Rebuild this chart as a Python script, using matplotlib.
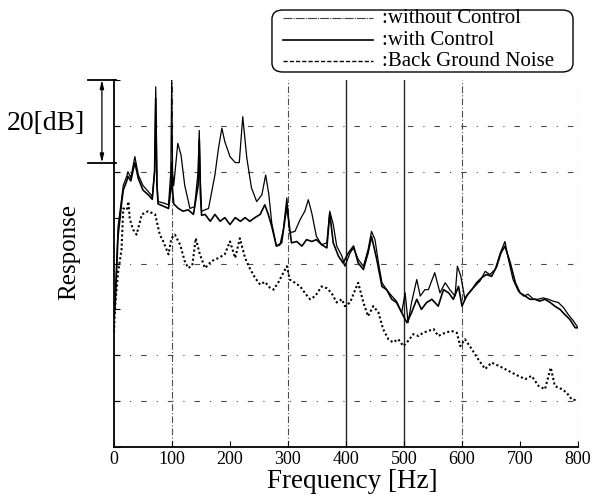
"""
Frequency response with and without control, plus background noise.
"""

import matplotlib
matplotlib.use("Agg")
import matplotlib.pyplot as plt
import matplotlib.transforms as mtransforms
from matplotlib.lines import Line2D
from matplotlib.patches import FancyBboxPatch
import numpy as np

# values (Hz, dB)
without_f = [0, 2, 7, 13, 16, 22, 24, 29, 36, 42, 50, 59, 66, 70, 72, 74, 76, 85, 94, 98,
             99.5, 101, 103, 110, 115.5, 122, 131, 139, 145, 147, 149, 151, 163, 174, 180,
             186, 191, 200, 209, 216, 222, 229, 237, 246, 255, 261.5, 267, 272, 280, 286,
             292, 298, 303, 312, 321, 329, 335, 341, 349, 358, 367, 372, 378, 384, 393,
             398, 407, 413, 421, 430, 438, 444, 450, 456, 462, 470, 479, 487, 496, 502,
             507, 513, 522, 528, 536, 542, 553, 562, 571, 579, 588, 592, 598, 605, 614,
             622, 631, 640, 648, 657, 666, 674, 680, 688, 697, 706, 714, 723, 731, 740,
             749, 757, 766, 775, 783, 792, 800]
without_db = [28, 31.7, 48, 54, 57, 59, 60, 58.7, 63.3, 59.3, 57, 55.7, 54.6, 60, 78.5, 58,
              53.5, 53.2, 52.8, 60, 80, 60, 57, 66.2, 63.7, 57, 52, 52.4, 60, 69, 58, 51.4,
              52, 59.3, 65, 69.5, 66.6, 63.3, 62, 62, 72, 63, 56.5, 53.5, 55, 59.3, 55,
              48.8, 43.8, 44, 47.4, 54.3, 46.7, 47, 49.6, 51.4, 53.9, 51, 45.9, 44.1, 44.5,
              51.4, 48.5, 43.8, 41.6, 39.4, 42.3, 43.4, 40.9, 39.4, 43, 47, 45.2, 40.1,
              35.8, 34.3, 32.9, 31.8, 29.3, 33.6, 27.1, 31.5, 36.5, 32.9, 34.3, 34.3, 38,
              33.6, 35.8, 34.3, 32.9, 39.4, 37.2, 32.2, 34, 35, 36.2, 38.3, 37.6, 38.7,
              42.3, 44.8, 40.9, 36.5, 34, 32.9, 33.3, 32.2, 32.2, 32.5, 32.2, 31.8, 31.5,
              30.4, 28.9, 27.5, 26]

with_f = [0, 2, 7, 13, 16, 22, 24, 29, 36, 42, 50, 59, 66, 70, 72, 74, 76, 85, 94, 98,
          99.5, 101, 103, 111, 119, 128, 137, 145, 147, 149, 151, 157, 166, 174, 183, 191,
          200, 209, 218, 226, 234, 243, 252, 260, 266, 272, 280, 289, 298, 306, 315, 324,
          332, 341, 349, 358, 367, 372, 378, 387, 395, 404, 413, 421, 430, 438, 444, 453,
          462, 470, 479, 487, 496, 505, 513, 522, 530, 539, 548, 559, 568, 577, 585, 594,
          600, 608, 617, 625, 634, 642, 651, 660, 667, 674, 683, 692, 700, 709, 717, 726,
          734, 743, 752, 760, 769, 777, 786, 795, 800]
with_db = [28, 31, 46, 53, 56, 58, 59, 58, 62, 58.5, 56, 55, 54, 60, 76, 57, 53, 52.5, 52,
           56, 62, 56, 53, 52, 51.4, 51.7, 50.7, 57, 67, 55, 50.5, 50.7, 49.2, 50.7, 49.2,
           50, 48.5, 50, 49.2, 50, 49.2, 50, 50.7, 52.8, 50.7, 48.1, 43.8, 44.5, 52.5,
           44.5, 44.8, 43.8, 45.2, 44.8, 45.2, 44.1, 43.4, 51, 44.5, 41.6, 40.1, 42.3,
           43.8, 40.1, 38.7, 42.3, 45.9, 40.9, 35, 34.3, 32.2, 31.5, 29.3, 27.1, 29.3,
           32.2, 30, 31.5, 32.2, 30.7, 34.3, 33.6, 32.2, 35, 30.7, 33, 34.3, 35.8, 36.9,
           37.6, 37.2, 39.4, 42.3, 43.8, 40.2, 35.8, 33.6, 32.9, 32.2, 32.2, 31.8, 32.2,
           31.5, 30.7, 30, 28.9, 27.8, 26, 26]

noise_f = [0, 2, 7, 13, 16, 22, 25, 27, 30, 33, 39, 48, 59, 71, 79, 85, 94, 99, 105, 114,
           122, 128, 135, 141, 148, 157, 168, 180, 191, 200, 209, 217, 226, 234, 243, 252,
           260, 269, 275, 283, 292, 298, 303, 312, 321, 329, 338, 347, 358, 367, 375, 384,
           393, 398, 407, 416, 421, 430, 438, 447, 456, 464, 473, 481, 490, 499, 507, 516,
           525, 533, 542, 551, 559, 571, 582, 591, 597, 605, 617, 628, 640, 651, 663, 674,
           686, 697, 709, 720, 732, 743, 753, 760, 772, 780, 789, 800]
noise_db = [25, 30.7, 38, 43, 52, 51.7, 53.5, 50, 48.5, 47.4, 46.3, 50.7, 51.4, 50.7, 46.3,
            44.8, 42, 45.5, 46.3, 44.1, 40.5, 39, 39.6, 45.5, 42, 39, 40.5, 41.2, 42, 44.8,
            41.2, 45.5, 41.2, 39, 36.9, 35.4, 36, 34.7, 34.3, 35.8, 38, 39.4, 36.5, 35.8,
            35, 33.6, 32.2, 32.9, 35, 34.6, 33.6, 31.5, 32.2, 30.7, 31.5, 34.3, 35.8, 31.5,
            28.5, 30.7, 29.3, 25.7, 23.5, 22.8, 23.5, 22, 23.1, 24.6, 24.2, 24.9, 25.3,
            25.7, 24.2, 24.9, 25.3, 24.9, 22, 23.5, 21.3, 19.1, 17, 18.4, 17.7, 17, 16.2,
            15.5, 14.8, 15.5, 13.3, 12.6, 17.3, 13.3, 12.6, 11.9, 10.4, 10.1]

x_ticks = [0, 100, 200, 300, 400, 500, 600, 700, 800]
y_ticks = [0, 10, 20, 30, 40, 50, 60, 70, 80]
legend_labels = [":without Control", ":with Control", ":Back Ground Noise"]


def main():
    plt.rcParams["font.family"] = ["Liberation Serif", "DejaVu Serif"]

    figure = plt.figure(figsize=(5.98, 5.01), dpi=100)
    axes = figure.add_axes([0.1906, 0.1078, 0.776, 0.7325])
    axes.set_xlim(0, 800)
    axes.set_ylim(0, 80)

    # faint scanned grid
    grid_style = dict(color="0.3", lw=0.8, zorder=1)
    for level in [70, 60, 40, 20, 10]:
        axes.axhline(level, ls=(0, (5, 9, 1, 9)), **grid_style)
    for freq in [100, 300, 600, 800]:
        axes.axvline(freq, ls=(0, (6, 2, 1, 2)), **grid_style)
    for freq in [400, 500]:
        axes.axvline(freq, color="0.15", lw=1.0, zorder=1)

    axes.plot(noise_f, noise_db, color="black", lw=1.5, ls=(0, (1, 1.2)), zorder=3)
    axes.plot(without_f, without_db, color="black", lw=0.9, zorder=4)
    axes.plot(with_f, with_db, color="black", lw=1.2, zorder=5)

    axes.set_xticks(x_ticks)
    axes.set_yticks(y_ticks)
    axes.set_yticklabels([])
    axes.tick_params(direction="in", length=4, width=0.8, labelsize=13, pad=3)
    for side in ["top", "right"]:
        axes.spines[side].set_visible(False)
    axes.spines["left"].set_linewidth(1.3)
    axes.spines["bottom"].set_linewidth(1.3)

    axes.set_xlabel("Frequency [Hz]", fontsize=19.5)
    axes.xaxis.set_label_coords(0.513, -0.06)
    axes.set_ylabel("Response", fontsize=18)
    axes.yaxis.set_label_coords(-0.072, 0.53)

    # 20 dB scale bracket
    blend = mtransforms.blended_transform_factory(axes.transAxes, axes.transData)
    for level in [80, 62]:
        axes.plot([-0.056, 0.004], [level, level], color="black", lw=1.3,
                  transform=blend, clip_on=False)
    axes.annotate("", xy=(-0.026, 80), xytext=(-0.026, 62), xycoords=blend,
                  textcoords=blend,
                  arrowprops=dict(arrowstyle="<|-|>,head_length=0.5,head_width=0.12",
                                  color="black", lw=0.9, shrinkA=0, shrinkB=0))
    axes.text(-0.062, 70.5, "20[dB]", transform=blend, ha="right", va="center",
              fontsize=20)

    # legend box above the axes
    box = FancyBboxPatch((0.4548, 0.8563), 0.5034, 0.1237,
                         boxstyle="round,pad=0,rounding_size=0.018",
                         transform=figure.transFigure, facecolor="white",
                         edgecolor="black", lw=1.0)
    figure.patches.append(box)
    row_y = [0.964, 0.920, 0.878]
    row_styles = [dict(lw=0.8, ls=(0, (8, 1, 1, 1)), color="0.25"),
                  dict(lw=1.2, ls="-", color="black"),
                  dict(lw=1.0, ls=(0, (3, 1.5)), color="black")]
    for label, y, style in zip(legend_labels, row_y, row_styles):
        figure.add_artist(Line2D([0.473, 0.624], [y, y], transform=figure.transFigure,
                                 **style))
        figure.text(0.638, y, label, ha="left", va="center", fontsize=15)

    figure.savefig("out.png", dpi=100)


if __name__ == "__main__":
    main()
